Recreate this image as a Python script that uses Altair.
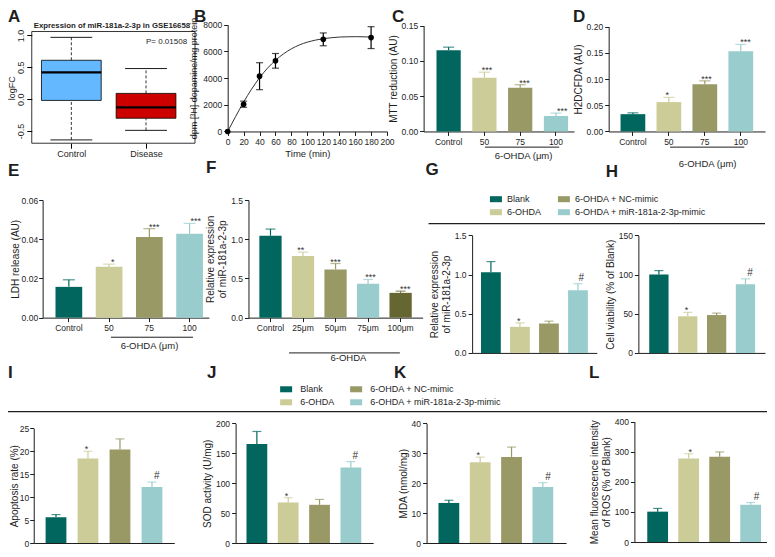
import altair as alt
import pandas as pd

FONT = "Liberation Sans"
INK = "#1e1e1e"
TEAL, KHAKI, OLIVE, CYAN, DKOLIVE = "#00665E", "#CCCC99", "#999966", "#99CCCC", "#666633"
PAL4 = [TEAL, KHAKI, OLIVE, CYAN]
PAL5 = [TEAL, KHAKI, OLIVE, CYAN, DKOLIVE]
W, H = 759, 541


def cx(r):
    return round((r - 3) * W / 767, 2)


def cy(r):
    return round((r - 7) * 535 / 546, 2)


ONE = pd.DataFrame({"k": [0]})

# ---------------- data ----------------
A_groups = ["Control", "Disease"]
A_pos = [1, 2]
A_lo = [-0.64, -0.49]
A_q1 = [-0.02, -0.30]
A_med = [0.42, -0.13]
A_q3 = [0.61, 0.09]
A_hi = [0.97, 0.48]
A_fill = ["#63B8FF", "#CD0000"]
A_ticks = [-0.5, 0.0, 0.5, 1.0]

B_time = [0, 20, 40, 60, 120, 180]
B_mean = [0, 2040, 4140, 5290, 6900, 7030]
B_err = [0, 230, 1010, 550, 480, 820]
B_fit_t = [0, 10, 20, 30, 40, 50, 60, 70, 80, 90, 100, 110, 120, 130, 140, 150, 160, 170, 180]
B_fit_y = [0, 1120, 2200, 3170, 4020, 4740, 5330, 5810, 6190, 6480, 6690, 6840, 6950, 7020, 7070, 7090, 7100, 7090, 7070]
B_xticks = [0, 20, 40, 60, 80, 100, 120, 140, 160, 180, 200]
B_yticks = [0, 2000, 4000, 6000, 8000]

DOSE = ["Control", "50", "75", "100"]
F_cats = ["Control", "25μm", "50μm", "75μm", "100μm"]
GROUPS = ["Blank", "6-OHDA", "6-OHDA + NC-mimic", "6-OHDA + miR-181a-2-3p-mimic"]

C_mean = [0.115, 0.076, 0.062, 0.022]
C_err = [0.0045, 0.008, 0.0042, 0.004]
C_sig = ["", "***", "***", "***"]
D_mean = [0.033, 0.056, 0.090, 0.153]
D_err = [0.0025, 0.009, 0.0065, 0.013]
D_sig = ["", "*", "***", "***"]
E_mean = [0.0157, 0.0260, 0.0412, 0.0428]
E_err = [0.0036, 0.0013, 0.0042, 0.0053]
E_sig = ["", "*", "***", "***"]
F_mean = [1.045, 0.785, 0.615, 0.432, 0.316]
F_err = [0.085, 0.05, 0.075, 0.055, 0.022]
F_sig = ["", "**", "***", "***", "***"]
G_mean = [1.03, 0.333, 0.375, 0.80]
G_err = [0.135, 0.05, 0.03, 0.083]
H_mean = [100, 46.7, 48.3, 87.5]
H_err = [5, 5, 2.5, 7]
I_mean = [5.6, 18.4, 20.4, 12.2]
I_err = [0.6, 1.6, 2.3, 1.1]
J_mean = [165.6, 67.8, 63.9, 126.2]
J_err = [21, 8, 9, 10]
K_mean = [13.4, 27.0, 28.8, 18.7]
K_err = [0.9, 1.75, 3.3, 1.5]
L_mean = [100.8, 277, 283, 123.6]
L_err = [10.7, 16, 16, 7.5]
SIG4 = ["", "*", "", "#"]


# ---------------- helpers ----------------
def label(text, x, y, size=9.0, weight="normal", align="center", angle=0, baseline="middle"):
    return alt.Chart(ONE).mark_text(
        text=text, fontSize=size, fontWeight=weight, align=align, angle=angle,
        baseline=baseline, font=FONT, color=INK,
    ).encode(x=alt.value(cx(x)), y=alt.value(max(0, cy(y))))


def hline(x0, x1, y, w=1.0):
    return alt.Chart(ONE).mark_rule(strokeWidth=w, color=INK).encode(
        x=alt.value(cx(x0)), x2=alt.value(cx(x1)), y=alt.value(cy(y)))


def bar_panel(cats, means, errs, sigs, colors, geo, yvals, fmt, ytitle, xlabels=True, tpad=3, lpad=2):
    ax0, ax1, b0, bN, w, ybot, ytop = geo
    n = len(cats)
    step = (bN - b0 - w) / (n - 1)
    pin = 1 - w / step
    outer = (ax1 - ax0) - step * (n - pin)
    pout = outer / (2 * step)
    align = (b0 - ax0) / outer
    df = pd.DataFrame({"cat": cats, "mean": means, "err": errs, "sig": sigs, "col": colors})
    df["hi"] = df["mean"] + df["err"]

    def xsc():
        return alt.Scale(domain=cats, range=[cx(ax0), cx(ax1)], paddingInner=pin,
                         paddingOuter=pout, align=align)

    def ysc():
        return alt.Scale(domain=[0, yvals[-1]], range=[cy(ybot), cy(ytop)], nice=False, zero=True)

    xax = alt.Axis(orient="bottom", offset=cy(ybot) - H, title=None, labels=xlabels,
                   ticks=xlabels, labelAngle=0, labelFontSize=8.5, labelPadding=2, tickSize=4,
                   domainColor=INK, tickColor=INK, labelColor=INK)
    yax = alt.Axis(orient="left", offset=-cx(ax0), values=yvals, format=fmt, title=ytitle,
                   minExtent=0, titlePadding=tpad, labelPadding=lpad, labelFontSize=8.5, tickSize=4,
                   domainColor=INK, tickColor=INK, labelColor=INK, titleColor=INK)
    base = alt.Chart(df)
    col = alt.Color("col:N", scale=None)
    bars = base.mark_bar().encode(
        x=alt.X("cat:N", scale=xsc(), axis=xax),
        y=alt.Y("mean:Q", scale=ysc(), axis=yax), color=col)
    rule = base.mark_rule(strokeWidth=1.2).encode(
        x=alt.X("cat:N", scale=xsc(), axis=None),
        y=alt.Y("mean:Q", scale=ysc(), axis=None), y2="hi:Q", color=col)
    cap = base.mark_tick(thickness=1.2, size=round(0.45 * w)).encode(
        x=alt.X("cat:N", scale=xsc(), axis=None),
        y=alt.Y("hi:Q", scale=ysc(), axis=None), color=col)
    stars = base.transform_filter("indexof(datum.sig, '*') >= 0").mark_text(
        fontSize=9, baseline="alphabetic", dy=1, color="#333333", font=FONT).encode(
        x=alt.X("cat:N", scale=xsc(), axis=None),
        y=alt.Y("hi:Q", scale=ysc(), axis=None), text="sig:N")
    hashes = base.transform_filter("datum.sig == '#'").mark_text(
        fontSize=10, baseline="alphabetic", dy=-3, color="#333333", font=FONT).encode(
        x=alt.X("cat:N", scale=xsc(), axis=None),
        y=alt.Y("hi:Q", scale=ysc(), axis=None), text="sig:N")
    return [bars, rule, cap, stars, hashes]


# ---------------- panel A (box plot) ----------------
dfA = pd.DataFrame({"g": A_groups, "pos": A_pos, "lo": A_lo, "q1": A_q1, "med": A_med,
                    "q3": A_q3, "hi": A_hi, "fill": A_fill})
axA_x0, axA_x1, axA_y0, axA_y1 = 27, 192, 145, 31


def xA():
    return alt.Scale(domain=[0.470, 2.656], range=[cx(axA_x0), cx(axA_x1)], nice=False, zero=False)


def yA():
    return alt.Scale(domain=[-0.692, 1.0615], range=[cy(axA_y0), cy(axA_y1)], nice=False, zero=False)


baseA = alt.Chart(dfA).transform_calculate(
    xl="datum.pos - 0.4", xr="datum.pos + 0.4", cl="datum.pos - 0.28", cr="datum.pos + 0.28")
A_x_axis = alt.Axis(orient="bottom", offset=cy(axA_y0) - H, values=[1, 2], domain=False,
                    labelExpr="datum.value == 1 ? 'Control' : 'Disease'", title=None,
                    tickSize=5, labelFontSize=9, labelPadding=1, tickColor="black", labelColor=INK)
A_y_axis = alt.Axis(orient="left", offset=-cx(axA_x0), values=A_ticks, domain=False,
                    labelExpr="datum.value < 0 ? '-' + format(-datum.value, '.1f') : format(datum.value, '.1f')",
                    labelAngle=-90, labelAlign="center", labelBaseline="bottom", tickSize=5,
                    labelFontSize=9, labelPadding=1, title=None, minExtent=0,
                    tickColor="black", labelColor=INK)
frameA = alt.Chart(ONE).mark_rect(fillOpacity=0, stroke="black", strokeWidth=0.8).encode(
    x=alt.value(cx(axA_x0)), x2=alt.value(cx(axA_x1)), y=alt.value(cy(axA_y1)), y2=alt.value(cy(axA_y0)))
boxA = baseA.mark_bar(stroke="black", strokeWidth=0.8).encode(
    x=alt.X("xl:Q", scale=xA(), axis=A_x_axis), x2="xr:Q",
    y=alt.Y("q1:Q", scale=yA(), axis=A_y_axis), y2="q3:Q", color=alt.Color("fill:N", scale=None))
whisk_up = baseA.mark_rule(strokeWidth=0.8, strokeDash=[3, 2], color="black").encode(
    x=alt.X("pos:Q", scale=xA(), axis=None), y=alt.Y("q3:Q", scale=yA(), axis=None), y2="hi:Q")
whisk_dn = baseA.mark_rule(strokeWidth=0.8, strokeDash=[3, 2], color="black").encode(
    x=alt.X("pos:Q", scale=xA(), axis=None), y=alt.Y("lo:Q", scale=yA(), axis=None), y2="q1:Q")
cap_up = baseA.mark_rule(strokeWidth=0.9, color="black").encode(
    x=alt.X("cl:Q", scale=xA(), axis=None), x2="cr:Q", y=alt.Y("hi:Q", scale=yA(), axis=None))
cap_dn = baseA.mark_rule(strokeWidth=0.9, color="black").encode(
    x=alt.X("cl:Q", scale=xA(), axis=None), x2="cr:Q", y=alt.Y("lo:Q", scale=yA(), axis=None))
medA = baseA.mark_rule(strokeWidth=2.2, color="black").encode(
    x=alt.X("xl:Q", scale=xA(), axis=None), x2="xr:Q", y=alt.Y("med:Q", scale=yA(), axis=None))
panelA = [boxA, whisk_up, whisk_dn, cap_up, cap_dn, medA, frameA]

# ---------------- panel B (uptake curve) ----------------
dfB = pd.DataFrame({"t": B_time, "m": B_mean, "e": B_err})
dfB["lo"] = dfB["m"] - dfB["e"]
dfB["hi"] = dfB["m"] + dfB["e"]
dfFit = pd.DataFrame({"t": B_fit_t, "y": B_fit_y})


def xB():
    return alt.Scale(domain=[0, 200], range=[cx(225), cx(386)], nice=False)


def yB():
    return alt.Scale(domain=[0, 8000], range=[cy(133), cy(24)], nice=False)


B_x_axis = alt.Axis(orient="bottom", offset=cy(133) - H, values=B_xticks, title="Time (min)",
                    format="d", labelFlush=False, labelOverlap=False, labelFontSize=8.5, tickSize=4,
                    titleFontSize=9.5, titlePadding=3, domainColor=INK, tickColor=INK,
                    labelColor=INK, titleColor=INK)
B_y_axis = alt.Axis(orient="left", offset=-cx(225), values=B_yticks, format="d",
                    title="dpm [³H] dopamine/mg protein",
                    labelFontSize=8.5, tickSize=4, minExtent=0, titlePadding=4, titleFontSize=9,
                    domainColor=INK, tickColor=INK, labelColor=INK, titleColor=INK)
fitB = alt.Chart(dfFit).mark_line(color="#333333", strokeWidth=1, interpolate="monotone").encode(
    x=alt.X("t:Q", scale=xB(), axis=B_x_axis), y=alt.Y("y:Q", scale=yB(), axis=B_y_axis))
errB = alt.Chart(dfB).transform_filter("datum.e > 0").mark_rule(color="black", strokeWidth=1.2).encode(
    x=alt.X("t:Q", scale=xB(), axis=None), y=alt.Y("lo:Q", scale=yB(), axis=None), y2="hi:Q")
capHiB = alt.Chart(dfB).transform_filter("datum.e > 0").mark_tick(
    color="black", thickness=1.2, size=7, orient="horizontal").encode(
    x=alt.X("t:Q", scale=xB(), axis=None), y=alt.Y("hi:Q", scale=yB(), axis=None))
capLoB = alt.Chart(dfB).transform_filter("datum.e > 0").mark_tick(
    color="black", thickness=1.2, size=7, orient="horizontal").encode(
    x=alt.X("t:Q", scale=xB(), axis=None), y=alt.Y("lo:Q", scale=yB(), axis=None))
ptsB = alt.Chart(dfB).mark_circle(color="black", size=32, opacity=1).encode(
    x=alt.X("t:Q", scale=xB(), axis=None), y=alt.Y("m:Q", scale=yB(), axis=None))
panelB = [fitB, errB, capHiB, capLoB, ptsB]

# ---------------- bar panels ----------------
REL = ["Relative  expression", "of miR-181a-2-3p"]
panelC = bar_panel(DOSE, C_mean, C_err, C_sig, PAL4, (423, 575, 436, 569, 24.5, 133, 25),
                   [0, 0.05, 0.10, 0.15], ".2f", "MTT reduction (AU)")
panelD = bar_panel(DOSE, D_mean, D_err, D_sig, PAL4, (610, 768, 622, 756, 25, 133, 26),
                   [0, 0.05, 0.10, 0.15, 0.20], ".2f", "H2DCFDA (AU)")
panelE = bar_panel(DOSE, E_mean, E_err, E_sig, PAL4, (38, 206, 51, 200, 27, 323, 203),
                   [0, 0.02, 0.04, 0.06], ".2f", "LDH release (AU)", tpad=1, lpad=1)
panelF = bar_panel(F_cats, F_mean, F_err, F_sig, PAL5, (246, 422, 257, 411, 22.5, 323, 203),
                   [0, 0.5, 1.0, 1.5], ".1f", REL)
panelG = bar_panel(GROUPS, G_mean, G_err, SIG4, PAL4, (472, 598, 481, 589, 20, 359, 239),
                   [0, 0.5, 1.0, 1.5], ".1f", REL, xlabels=False)
panelH = bar_panel(GROUPS, H_mean, H_err, SIG4, PAL4, (640, 768, 651, 758, 19.5, 359, 239),
                   [0, 50, 100, 150], "d", "Cell viability (% of Blank)", xlabels=False)
panelI = bar_panel(GROUPS, I_mean, I_err, SIG4, PAL4, (29, 171, 41, 159, 21, 553, 436),
                   [0, 5, 10, 15, 20, 25], "d", "Apoptosis rate (%)", xlabels=False, tpad=0, lpad=1)
panelJ = bar_panel(GROUPS, J_mean, J_err, SIG4, PAL4, (233, 372, 244, 360, 21, 553, 431),
                   [0, 50, 100, 150, 200], "d", "SOD activity (U/mg)", xlabels=False)
panelK = bar_panel(GROUPS, K_mean, K_err, SIG4, PAL4, (426, 567, 438, 554, 21, 553, 431),
                   [0, 10, 20, 30, 40], "d", "MDA (nmol/mg)", xlabels=False)
panelL = bar_panel(GROUPS, L_mean, L_err, SIG4, PAL4, (636, 770, 649, 764, 21, 552, 429),
                   [0, 100, 200, 300, 400], "d", ["Mean fluorescence intensity", "of ROS (% of Blank)"],
                   xlabels=False)

# ---------------- legends ----------------
LEG_COLS = [TEAL, KHAKI, OLIVE, CYAN]


def legend_layer(x, y, colpad, offset):
    return alt.Chart(pd.DataFrame({"g": GROUPS})).transform_filter("false").mark_square().encode(
        color=alt.Color("g:N", scale=alt.Scale(domain=GROUPS, range=LEG_COLS),
                        legend=alt.Legend(orient="none", legendX=cx(x), legendY=cy(y), columns=2,
                                          title=None, symbolType="M-1,-0.5H1V0.5H-1Z", symbolSize=144,
                                          symbolStrokeWidth=0, symbolOpacity=1, labelFontSize=9,
                                          labelFont=FONT, labelColor=INK, columnPadding=colpad,
                                          rowPadding=2, labelOffset=offset, padding=0)))


legTop = legend_layer(490, 196, 16, 5)
legBot = legend_layer(278, 390, 15, 8)

# ---------------- annotations ----------------
deco = [
    label("Expression of miR-181a-2-3p in GSE16658", 108, 25, size=7.8, weight="bold"),
    label("P= 0.01508", 184, 42, size=8, align="right"),
    label("logFC", 7.5, 89, size=9, angle=270),
    label("A", 3, 8, size=17, weight="bold", align="left", baseline="top"),
    label("B", 191, 8, size=17, weight="bold", align="left", baseline="top"),
    label("C", 391, 8, size=17, weight="bold", align="left", baseline="top"),
    label("D", 574, 8, size=17, weight="bold", align="left", baseline="top"),
    label("E", 3, 173, size=17, weight="bold", align="left"),
    label("F", 203, 170, size=17, weight="bold", align="left"),
    label("G", 425, 172, size=17, weight="bold", align="left"),
    label("H", 607, 174, size=17, weight="bold", align="left"),
    label("I", 3, 380, size=17, weight="bold", align="left"),
    label("J", 204, 380, size=17, weight="bold", align="left"),
    label("K", 393, 379, size=17, weight="bold", align="left"),
    label("L", 590, 380, size=17, weight="bold", align="left"),
    hline(485, 560, 149), label("6-OHDA (μm)", 524, 158, size=9.5),
    hline(672, 747, 149), label("6-OHDA (μm)", 710, 166, size=9.5),
    hline(107, 190, 343), label("6-OHDA (μm)", 146, 352, size=9.5),
    hline(287, 399, 359), label("6-OHDA", 347, 364, size=9.5),
    hline(428, 768, 227, 1.2),
    hline(3, 770, 419, 1.2),
]

layers = (panelA + panelB + panelC + panelD + panelE + panelF + panelG + panelH
          + panelI + panelJ + panelK + panelL + deco + [legTop, legBot])

chart = alt.layer(*layers).resolve_scale(
    x="independent", y="independent", color="independent"
).properties(
    width=W, height=H, autosize=alt.AutoSizeParams(type="none"), padding=0,
    background="white",
).configure_axis(
    labelFont=FONT, titleFont=FONT, titleFontSize=10, titleFontWeight="normal",
    domainWidth=1, tickWidth=1, labelPadding=2, grid=False,
).configure_view(stroke=None)

chart.save("out.html", embed_options={"renderer": "svg", "actions": False})
